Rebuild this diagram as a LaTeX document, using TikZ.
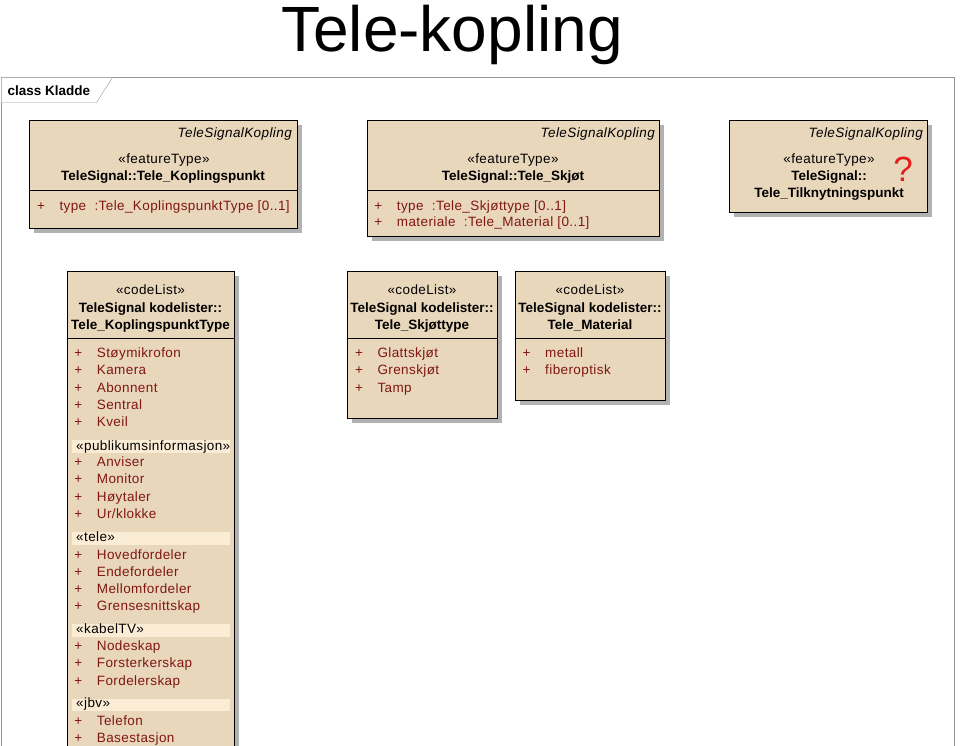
\documentclass[tikz,border=0pt]{standalone}
\usepackage{fontspec}
\setmainfont{Liberation Sans}[LetterSpace=3, BoldFeatures={LetterSpace=0}]
\newfontfamily\titlefont{Liberation Sans}
\usetikzlibrary{shadows}
\definecolor{umlfill}{RGB}{233,215,188}
\definecolor{umlband}{RGB}{251,236,214}
\definecolor{umlattr}{RGB}{128,22,22}
\definecolor{umlframe}{RGB}{150,150,150}
\definecolor{umlmark}{RGB}{228,30,30}
\tikzset{
  basic/.style   = {draw, line width=1pt, fill=umlfill, rectangle, anchor=north west,
                    inner sep=0pt, drop shadow={shadow xshift=4pt, shadow yshift=-4pt,
                    fill=black!30, opacity=1}},
  txt/.style     = {inner sep=0pt, font=\fontsize{13.5}{16}\selectfont},
  stereo/.style  = {txt, anchor=base},
  clsname/.style = {txt, anchor=base, font=\fontsize{13.5}{16}\selectfont\bfseries},
  pkg/.style     = {txt, anchor=base east, font=\fontsize{13.5}{16}\selectfont\itshape},
  attr/.style    = {txt, anchor=base west, text=umlattr,
                    execute at begin node={\makebox[22.5pt][l]{+}}},
  band/.style    = {fill=umlband, draw=none, inner sep=0pt, anchor=north west,
                    minimum width=158pt, minimum height=12.5pt},
  divider/.style = {line width=1pt}
}
\begin{document}
\begin{tikzpicture}[x=1pt,y=-1pt]
\useasboundingbox (0,0) rectangle (960,745);
\clip (0,0) rectangle (960,745);

% title and diagram frame
\node[inner sep=0pt, anchor=base, font=\titlefont\fontsize{64}{70}\selectfont] (title) at (452,51) {Tele-kopling};
\draw[umlframe] (1.5,760) -- (1.5,77.5) -- (954.5,77.5) -- (954.5,760);
\draw[umlframe, fill=white] (1.5,77.5) -- (112.5,77.5) -- (96.5,102.5) -- (1.5,102.5);
\node[txt, anchor=base west, font=\fontsize{13.5}{16}\selectfont\bfseries] (frame) at (7.5,95) {class Kladde};

% feature types
\node[basic, minimum width=268pt, minimum height=108pt] (k1) at (29,120) {};
\node[basic, minimum width=292pt, minimum height=116pt] (k2) at (367,120) {};
\node[basic, minimum width=198pt, minimum height=92pt] (k3) at (729,120) {};
\draw[divider] ([yshift=-70.5pt]k1.north west) -- ([yshift=-70.5pt]k1.north east);
\draw[divider] ([yshift=-70.5pt]k2.north west) -- ([yshift=-70.5pt]k2.north east);

\node[pkg] (k1p) at (292,137.5) {TeleSignalKopling};
\node[stereo] (k1s) at (164,163) {«featureType»};
\node[clsname] (k1n) at (163,180.5) {TeleSignal::Tele\_Koplingspunkt};
\node[attr] (k1a) at (36.8,210) {type~~:Tele\_KoplingspunktType [0..1]};

\node[pkg] (k2p) at (655,137.5) {TeleSignalKopling};
\node[stereo] (k2s) at (513,163) {«featureType»};
\node[clsname] (k2n) at (513,180.5) {TeleSignal::Tele\_Skjøt};
\node[attr] (k2a1) at (374.2,210.5) {type~~:Tele\_Skjøttype [0..1]};
\node[attr] (k2a2) at (374.2,226.5) {materiale~~:Tele\_Material [0..1]};

\node[pkg] (k3p) at (923,137.5) {TeleSignalKopling};
\node[stereo] (k3s) at (829,163) {«featureType»};
\node[clsname] (k3n1) at (829,180.5) {TeleSignal::};
\node[clsname] (k3n2) at (829,197) {Tele\_Tilknytningspunkt};
\node[inner sep=0pt, anchor=base, text=umlmark, font=\titlefont\fontsize{35}{35}\selectfont] (k3q) at (903,181) {?};

% code lists
\node[basic, minimum width=167pt, minimum height=500pt] (c1) at (67,271) {};
\node[basic, minimum width=150pt, minimum height=147pt] (c2) at (347,271) {};
\node[basic, minimum width=150pt, minimum height=129pt] (c3) at (515,271) {};
\foreach \value in {1,2,3}
  \draw[divider] ([yshift=-67pt]c\value.north west) -- ([yshift=-67pt]c\value.north east);

\node[stereo] (c1s) at (150.5,294) {«codeList»};
\node[clsname] (c1n1) at (150.5,312) {TeleSignal kodelister::};
\node[clsname] (c1n2) at (150.5,329) {Tele\_KoplingspunktType};
\node[stereo] (c2s) at (422,294) {«codeList»};
\node[clsname] (c2n1) at (422,312) {TeleSignal kodelister::};
\node[clsname] (c2n2) at (422,329) {Tele\_Skjøttype};
\node[stereo] (c3s) at (590,294) {«codeList»};
\node[clsname] (c3n1) at (590,312) {TeleSignal kodelister::};
\node[clsname] (c3n2) at (590,329) {Tele\_Material};

% values of Tele_KoplingspunktType
\foreach \val [count=\i] in {Støymikrofon,Kamera,Abonnent,Sentral,Kveil}
  \node[attr] (c1a\i) at (74.2,{357.7+17.25*(\i-1)}) {\val};

\node[band] (b1) at (72,440) {};
\node[txt, anchor=base west] (b1t) at (76,450) {«publikumsinformasjon»};
\foreach \val [count=\i] in {Anviser,Monitor,Høytaler,Ur/klokke}
  \node[attr] (c1b\i) at (74.2,{466.8+17.1*(\i-1)}) {\val};

\node[band] (b2) at (72,532) {};
\node[txt, anchor=base west] (b2t) at (76,541.7) {«tele»};
\foreach \val [count=\i] in {Hovedfordeler,Endefordeler,Mellomfordeler,Grensesnittskap}
  \node[attr] (c1c\i) at (74.2,{559+17.1*(\i-1)}) {\val};

\node[band] (b3) at (72,624) {};
\node[txt, anchor=base west] (b3t) at (76,633.5) {«kabelTV»};
\foreach \val [count=\i] in {Nodeskap,Forsterkerskap,Fordelerskap}
  \node[attr] (c1d\i) at (74.2,{650.7+17.2*(\i-1)}) {\val};

\node[band] (b4) at (72,698.3) {};
\node[txt, anchor=base west] (b4t) at (76,707.7) {«jbv»};
\foreach \val [count=\i] in {Telefon,Basestasjon}
  \node[attr] (c1e\i) at (74.2,{725+17.3*(\i-1)}) {\val};

% values of Tele_Skjottype and Tele_Material
\foreach \val [count=\i] in {Glattskjøt,Grenskjøt,Tamp}
  \node[attr] (c2a\i) at (354.8,{357.7+17.25*(\i-1)}) {\val};
\foreach \val [count=\i] in {metall,fiberoptisk}
  \node[attr] (c3a\i) at (522.5,{357.7+17.25*(\i-1)}) {\val};

\end{tikzpicture}
\end{document}
